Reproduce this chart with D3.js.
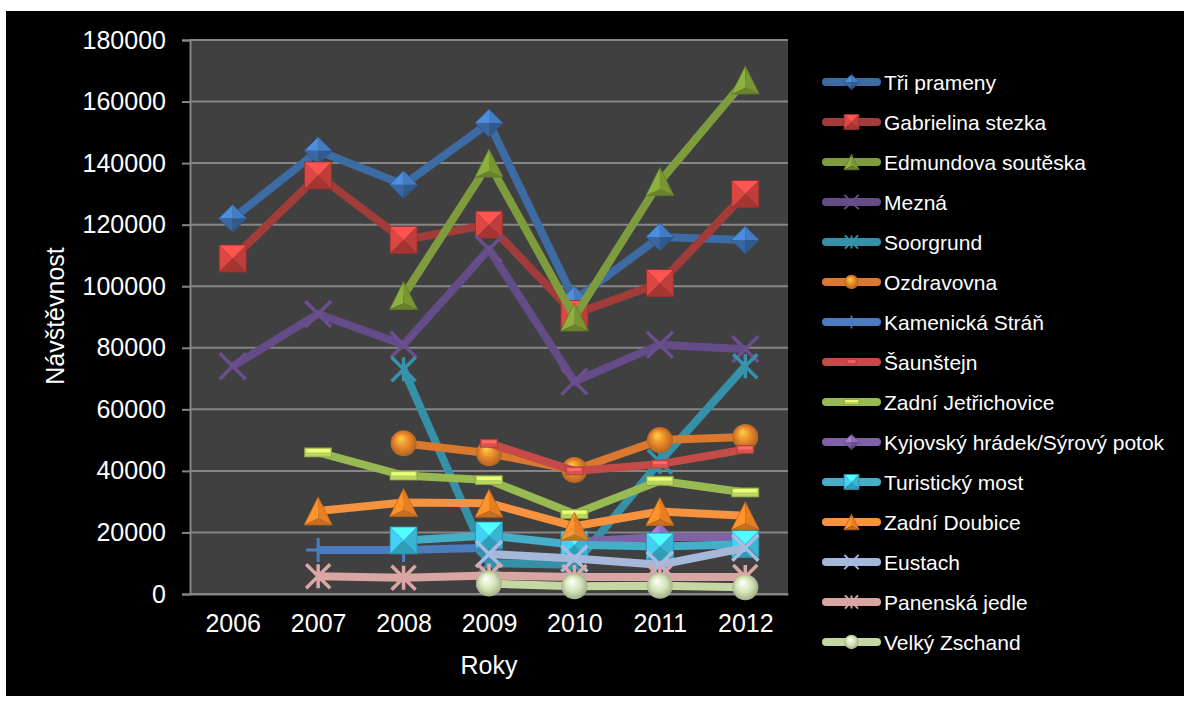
<!DOCTYPE html>
<html><head><meta charset="utf-8">
<script src="https://cdn.jsdelivr.net/npm/d3@7"></script>
<style>
body{margin:0;background:#fff}
svg{display:block}
text{font-family:"Liberation Sans",Arial,sans-serif;fill:#fff}
</style>
</head><body>
<svg id="c" width="1191" height="706"></svg>
<script>
// ---- data ----
const years = ["2006","2007","2008","2009","2010","2011","2012"];
const yTicks = [0,20000,40000,60000,80000,100000,120000,140000,160000,180000];
const seriesNames = ["Tři prameny","Gabrielina stezka","Edmundova soutěska","Mezná","Soorgrund","Ozdravovna","Kamenická Stráň","Šaunštejn","Zadní Jetřichovice","Kyjovský hrádek/Sýrový potok","Turistický most","Zadní Doubice","Eustach","Panenská jedle","Velký Zschand"];
const triPrameny        = [122000,144000,133000,153000,95500,116000,115000];
const gabrielinaStezka  = [109000,136000,115000,120000,91000,101000,130000];
const edmundovaSouteska = [null,null,97000,140000,90000,134000,167000];
const mezna             = [74000,91000,81000,112000,69000,81000,79500];
const soorgrund         = [null,null,73000,10000,9500,43000,74000];
const ozdravovna        = [null,null,49000,45700,40300,50000,51000];
const kamenickaStran    = [null,14300,14300,15000,null,null,null];
const saunstejn         = [null,null,null,49000,40000,42200,47000];
const zadniJetrichovice = [null,46000,38500,37000,26000,36800,33000];
const kyjovskyHradek    = [null,null,null,null,17000,18500,18500];
const turistickyMost    = [null,null,17400,19000,16000,15400,16200];
const zadniDoubice      = [null,27000,29700,29500,22000,26800,25400];
const eustach           = [null,null,null,13000,11500,9500,15000];
const panenskaJedle     = [null,5800,5300,6000,5500,5500,5500];
const velkyZschand      = [null,null,null,3400,2500,2700,2200];
const seriesValues = [triPrameny,gabrielinaStezka,edmundovaSouteska,mezna,soorgrund,ozdravovna,kamenickaStran,saunstejn,zadniJetrichovice,kyjovskyHradek,turistickyMost,zadniDoubice,eustach,panenskaJedle,velkyZschand];

// ---- styles ----
const lineColors   = ["#3d6ba4","#a23c3a","#7e9c3e","#634c88","#3591a8","#d9782e","#4a7dc0","#c54b48","#97ba52","#7f61a5","#45afca","#f7923f","#a6b8da","#daa6a4","#c5d7a2"];
const markerColors = ["#3c6fae","#c9403d","#7d9b37","#6a4f8e","#3593ab","#e5832a","#4a7ec0","#d9534f","#b8d65e","#8064a8","#3cbfe0","#ef8325","#a8bbe0","#dba6a5","#d4e4b6"];
const markerTypes  = ["diamond","square","triangle","x","star","ball","plus","shortdash","longdash","diamond","square","triangle","x","star","ball"];

const svg = d3.select("#c");
const defs = svg.append("defs");
markerColors.forEach((c,i)=>{
  const g = defs.append("radialGradient").attr("id","ball"+i).attr("cx","50%").attr("cy","50%").attr("r","55%").attr("fx","38%").attr("fy","30%");
  g.append("stop").attr("offset","0%").attr("stop-color",d3.color(c).brighter(1.3));
  g.append("stop").attr("offset","55%").attr("stop-color",c);
  g.append("stop").attr("offset","100%").attr("stop-color",d3.color(c).darker(0.9));
});

// background
svg.append("rect").attr("x",6).attr("y",11).attr("width",1178).attr("height",685).attr("fill","#000");

const pLeft=190,pRight=788,pTop=40,pBottom=594;
const x = d3.scalePoint().domain(years).range([pLeft,pRight]).padding(0.5);
const y = d3.scaleLinear().domain([0,180000]).range([pBottom,pTop]);

svg.append("rect").attr("x",pLeft).attr("y",pTop).attr("width",pRight-pLeft).attr("height",pBottom-pTop).attr("fill","#404040");

// gridlines
svg.append("g").selectAll("line").data(yTicks).join("line")
  .attr("x1",pLeft).attr("x2",pRight).attr("y1",d=>y(d)).attr("y2",d=>y(d))
  .attr("stroke","#868686").attr("stroke-width",2);

// y axis
const yAxis = svg.append("g").attr("transform",`translate(${pLeft},0)`)
  .call(d3.axisLeft(y).tickValues(yTicks).tickFormat(d3.format("d")).tickSize(8).tickPadding(16));
yAxis.select(".domain").attr("stroke","#868686").attr("stroke-width",2);
yAxis.selectAll(".tick line").attr("stroke","#868686").attr("stroke-width",2);
yAxis.selectAll(".tick text").attr("fill","#fff").attr("font-size",25).attr("font-family","Liberation Sans, Arial, sans-serif");

// x axis
const xAxis = svg.append("g").attr("transform",`translate(0,${pBottom})`)
  .call(d3.axisBottom(x).tickSize(0).tickPadding(20));
xAxis.select(".domain").attr("stroke","#868686").attr("stroke-width",2);
xAxis.selectAll(".tick text").attr("fill","#fff").attr("font-size",25).attr("font-family","Liberation Sans, Arial, sans-serif");

// axis titles
svg.append("text").attr("x",(pLeft+pRight)/2).attr("y",674).attr("text-anchor","middle").attr("font-size",25).text("Roky");
svg.append("text").attr("transform","translate(64,316) rotate(-90)").attr("text-anchor","middle").attr("font-size",25).text("Návštěvnost");

// marker drawer
function drawMarker(g, type, i, s){
  const c = markerColors[i];
  const br = k=>d3.color(c).brighter(k).formatHex();
  const dk = k=>d3.color(c).darker(k).formatHex();
  const poly = (pts,fill)=>g.append("polygon").attr("points",pts.map(p=>p.join(",")).join(" ")).attr("fill",fill);
  if(type==="diamond"){
    const h=14*s;
    poly([[0,-h],[-h,0],[0,0]],br(0.7));
    poly([[0,-h],[h,0],[0,0]],br(0.3));
    poly([[-h,0],[0,h],[0,0]],dk(0.2));
    poly([[h,0],[0,h],[0,0]],dk(0.6));
    g.append("polygon").attr("points",`0,${-h} ${h},0 0,${h} ${-h},0`).attr("fill","none").attr("stroke",dk(0.8)).attr("stroke-width",0.8);
  } else if(type==="square"){
    const a=13.5*s;
    poly([[-a,-a],[a,-a],[0,0]],br(0.8));
    poly([[-a,-a],[-a,a],[0,0]],br(0.25));
    poly([[a,-a],[a,a],[0,0]],dk(0.15));
    poly([[-a,a],[a,a],[0,0]],dk(0.55));
    g.append("rect").attr("x",-a).attr("y",-a).attr("width",2*a).attr("height",2*a).attr("fill","none").attr("stroke",dk(0.8)).attr("stroke-width",0.8);
  } else if(type==="triangle"){
    const h=14*s,w=14*s;
    const ip=[0,h*0.55];
    poly([[0,-h],[-w,h],ip],br(0.35));
    poly([[0,-h],[w,h],ip],dk(0.1));
    poly([[-w,h],[w,h],ip],dk(0.5));
    g.append("polygon").attr("points",`0,${-h} ${w},${h} ${-w},${h}`).attr("fill","none").attr("stroke",dk(0.7)).attr("stroke-width",0.8);
  } else if(type==="ball"){
    g.append("circle").attr("r",13*s).attr("fill",`url(#ball${i})`);
  } else if(type==="x"||type==="star"){
    const h=(type==="x"?13:12)*s;
    const p = d3.path();
    p.moveTo(-h,-h);p.lineTo(h,h);p.moveTo(h,-h);p.lineTo(-h,h);
    if(type==="star"){p.moveTo(0,-h);p.lineTo(0,h);}
    g.append("path").attr("d",p.toString()).attr("stroke",c).attr("stroke-width",3.5*s).attr("fill","none");
  } else if(type==="plus"){
    const h=12*s;
    g.append("path").attr("d",`M${-h},0L${h},0M0,${-h}L0,${h}`).attr("stroke",c).attr("stroke-width",3*s).attr("fill","none");
  } else if(type==="shortdash"||type==="longdash"){
    const w=(type==="longdash"?27:17)*s, h=(type==="longdash"?9:8)*s;
    g.append("rect").attr("x",-w/2).attr("y",-h/2).attr("width",w).attr("height",h).attr("fill",c).attr("stroke",dk(0.8)).attr("stroke-width",0.8);
    g.append("rect").attr("x",-w/2+1.5*s).attr("y",-h/2+1.2*s).attr("width",w-3*s).attr("height",h*0.35).attr("fill",br(0.7));
  }
}

// series
const lineGen = d3.line().defined(d=>d.v!=null).x(d=>x(d.yr)).y(d=>y(d.v));
seriesValues.forEach((vals,i)=>{
  const pts = years.map((yr,k)=>({yr, v: vals[k]}));
  const g = svg.append("g");
  g.append("path").datum(pts).attr("d",lineGen).attr("fill","none")
    .attr("stroke",lineColors[i]).attr("stroke-width",8).attr("stroke-linejoin","round");
  pts.filter(d=>d.v!=null).forEach(d=>{
    const mg = g.append("g").attr("transform",`translate(${x(d.yr)},${y(d.v)})`);
    drawMarker(mg, markerTypes[i], i, 1);
  });
});

// legend
const lg = svg.append("g");
seriesNames.forEach((name,i)=>{
  const yy = 82 + i*40;
  lg.append("line").attr("x1",826).attr("x2",877).attr("y1",yy).attr("y2",yy)
    .attr("stroke",lineColors[i]).attr("stroke-width",8).attr("stroke-linecap","round");
  const mg = lg.append("g").attr("transform",`translate(851.5,${yy})`);
  drawMarker(mg, markerTypes[i], i, 0.55);
  lg.append("text").attr("x",884).attr("y",yy).attr("dy","0.36em").attr("font-size",21).text(name);
});
</script>
</body></html>
